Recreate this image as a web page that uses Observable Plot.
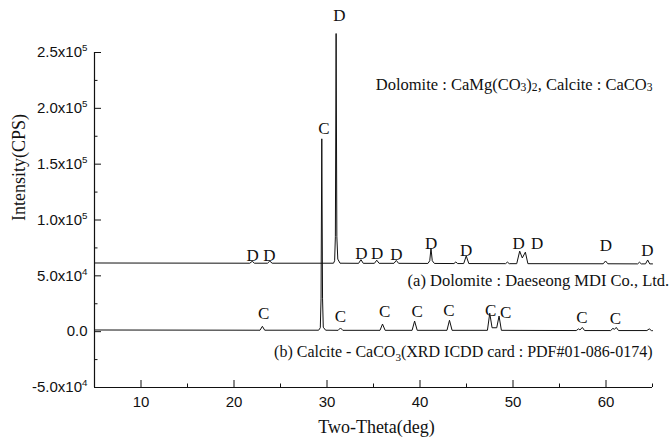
<!DOCTYPE html>
<html><head><meta charset="utf-8">
<script src="https://cdn.jsdelivr.net/npm/d3@7"></script>
<script src="https://cdn.jsdelivr.net/npm/@observablehq/plot@0.6"></script>
<style>body{margin:0;background:#fff}</style>
</head><body><div id="chart"></div>
<script>
// (a) Dolomite trace: 2-theta (deg) and intensity (CPS)
const dolomiteTheta = [5, 21.7, 21.96, 22.2, 23.6, 23.85, 24.1, 30.7, 30.82, 30.9, 30.98, 31.06, 31.16, 31.4,
  33.4, 33.65, 33.9, 35.1, 35.35, 35.6, 37.2, 37.45, 37.7, 40.85, 41.05, 41.18, 41.32, 41.55,
  43.65, 43.85, 44.05, 44.7, 44.97, 45.25, 49.2, 49.4, 49.6, 50.4, 50.72, 51.0, 51.33, 51.6,
  59.7, 59.95, 60.2, 63.4, 63.6, 63.8, 64.25, 64.48, 64.7, 65];
const dolomiteCounts = [61500, 61300, 63000, 61300, 61300, 63200, 61300, 61300, 63500, 85000, 267000, 85000, 65000, 61300,
  61200, 64500, 61200, 61200, 64000, 61200, 61200, 63800, 61200, 61100, 63500, 74700, 63500, 61100,
  61000, 62400, 61000, 61000, 67800, 61000, 60900, 62300, 60900, 60900, 72100, 66000, 71200, 60900,
  60800, 63300, 60800, 60700, 62200, 60700, 60700, 64200, 60700, 60700];

// (b) Calcite trace
const calciteTheta = [5, 22.8, 23.05, 23.3, 29.1, 29.28, 29.36, 29.44, 29.52, 29.6, 29.85,
  31.2, 31.45, 31.7, 35.7, 35.97, 36.25, 39.15, 39.42, 39.7, 42.9, 43.17, 43.45,
  47.25, 47.5, 47.75, 48.25, 48.5, 48.75, 56.8, 57.05, 57.2, 57.45, 57.7,
  60.5, 60.75, 60.9, 61.1, 61.35, 64.4, 64.65, 64.9, 65];
const calciteCounts = [1500, 1300, 4800, 1300, 1300, 3500, 30000, 172700, 30000, 4000, 1300,
  1200, 3300, 1200, 1200, 6800, 1200, 1200, 9500, 1200, 1200, 10200, 1200,
  1200, 16500, 3500, 3500, 14000, 1200, 1000, 2500, 1500, 3800, 1000,
  1000, 3000, 2000, 3800, 1000, 1000, 2500, 900, 900];

// Peak labels
const dolomiteLabelTheta = [22.0, 23.8, 31.34, 33.7, 35.4, 37.47, 41.2, 44.97, 50.6, 52.6, 60.0, 64.46];
const dolomiteLabelCounts = [68200, 68200, 283000, 69700, 69700, 69200, 78700, 72700, 79200, 79200, 77200, 72700];
const calciteLabelTheta = [23.2, 29.66, 31.45, 36.2, 39.7, 43.1, 47.6, 49.2, 57.4, 61.0];
const calciteLabelCounts = [16300, 181900, 13600, 18100, 18100, 19000, 19000, 17500, 13000, 11800];

// Notes
const noteTexts = ["Dolomite : CaMg(CO~{3})~{2}, Calcite : CaCO~{3}", "(a) Dolomite : Daeseong MDI Co., Ltd.", "(b) Calcite - CaCO_{3}(XRD ICDD card : PDF#01-086-0174)"];
const noteTheta = [65, 66.8, 65];
const noteCounts = [221300, 45800, -17700];
const noteSize = [16.5, 16.5, 16];

// Axes
const xMajor = [10, 20, 30, 40, 50, 60];
const xMinor = [15, 25, 35, 45, 55, 65];
const yMajor = [-50000, 0, 50000, 100000, 150000, 200000, 250000];
const yMinor = [-25000, 25000, 75000, 125000, 175000, 225000];
const yTickLabels = ["-5.0x10^{4}", "0.0", "5.0x10^{4}", "1.0x10^{5}", "1.5x10^{5}", "2.0x10^{5}", "2.5x10^{5}"];
const xTitle = "Two-Theta(deg)";
const yTitle = "Intensity(CPS)";

const dolomite = dolomiteTheta.map((t, i) => ({theta: t, counts: dolomiteCounts[i]}));
const calcite = calciteTheta.map((t, i) => ({theta: t, counts: calciteCounts[i]}));
const dLabels = dolomiteLabelTheta.map((t, i) => ({theta: t, counts: dolomiteLabelCounts[i], t: "D"}));
const cLabels = calciteLabelTheta.map((t, i) => ({theta: t, counts: calciteLabelCounts[i], t: "C"}));
const notes = noteTexts.map((s, i) => ({text: s, theta: noteTheta[i], counts: noteCounts[i], size: noteSize[i]}));

const serif = "'Liberation Serif', 'Times New Roman', serif";

const plot = Plot.plot({
  width: 672, height: 438,
  marginLeft: 94, marginRight: 20, marginTop: 52, marginBottom: 51,
  style: {fontFamily: "'Liberation Sans', Arial, sans-serif", fontSize: "15px", background: "#fff", overflow: "visible", color: "#111"},
  x: {domain: [5, 65]},
  y: {domain: [-50000, 250000]},
  marks: [
    Plot.ruleX([5], {stroke: "#111", strokeWidth: 1.2}),
    Plot.ruleY([-50000], {stroke: "#111", strokeWidth: 1.2}),
    Plot.axisX({ticks: xMajor, tickSize: -7, tickFormat: () => "", label: null}),
    Plot.axisX({ticks: xMinor, tickSize: -3.5, tickFormat: () => "", label: null}),
    Plot.axisX({ticks: xMajor, tickSize: 0, tickPadding: 9, label: null, fontSize: 15}),
    Plot.axisY({ticks: yMajor, tickSize: -7, tickFormat: () => "", label: null}),
    Plot.axisY({ticks: yMinor, tickSize: -3.5, tickFormat: () => "", label: null}),
    Plot.axisY({ticks: yMajor, tickSize: 0, tickPadding: 7, label: null, fontSize: 15,
      tickFormat: d => yTickLabels[yMajor.indexOf(d)]}),
    Plot.line(dolomite, {x: "theta", y: "counts", stroke: "#111", strokeWidth: 1}),
    Plot.line(calcite, {x: "theta", y: "counts", stroke: "#111", strokeWidth: 1}),
    Plot.text(dLabels, {x: "theta", y: "counts", text: "t", fontFamily: serif, fontSize: 17, fill: "#111"}),
    Plot.text(cLabels, {x: "theta", y: "counts", text: "t", fontFamily: serif, fontSize: 17, fill: "#111"}),
    ...notes.map(n => Plot.text([n], {x: "theta", y: "counts", text: "text", textAnchor: "end", fontFamily: serif, fontSize: n.size, fill: "#111"})),
    Plot.text([xTitle], {frameAnchor: "bottom", dy: 40, dx: 3, textAnchor: "middle", lineAnchor: "middle", fontFamily: serif, fontSize: 18, fill: "#111"}),
    Plot.text([yTitle], {frameAnchor: "top-left", dx: -75, dy: 115, rotate: -90, textAnchor: "middle", lineAnchor: "middle", fontFamily: serif, fontSize: 18, fill: "#111"})
  ]
});

function richify(el) {
  const s = el.textContent;
  if (!/[_^~]\{/.test(s)) return;
  while (el.firstChild) el.removeChild(el.firstChild);
  const re = /([_^~])\{([^}]*)\}/g;
  let last = 0, cur = 0, m;
  const add = (txt, off, size) => {
    const t = document.createElementNS("http://www.w3.org/2000/svg", "tspan");
    t.textContent = txt;
    const d = off - cur;
    if (d) t.setAttribute("dy", d);
    if (size) t.setAttribute("font-size", size);
    cur = off;
    el.appendChild(t);
  };
  while ((m = re.exec(s))) {
    if (m.index > last) add(s.slice(last, m.index), 0, null);
    if (m[1] === "^") add(m[2], -6, "0.65em");
    else if (m[1] === "_") add(m[2], 4, "0.7em");
    else add(m[2], 1, "0.7em");
    last = re.lastIndex;
  }
  if (last < s.length) add(s.slice(last), 0, null);
}
plot.querySelectorAll("text").forEach(richify);
document.getElementById("chart").appendChild(plot);
</script>
</body></html>
